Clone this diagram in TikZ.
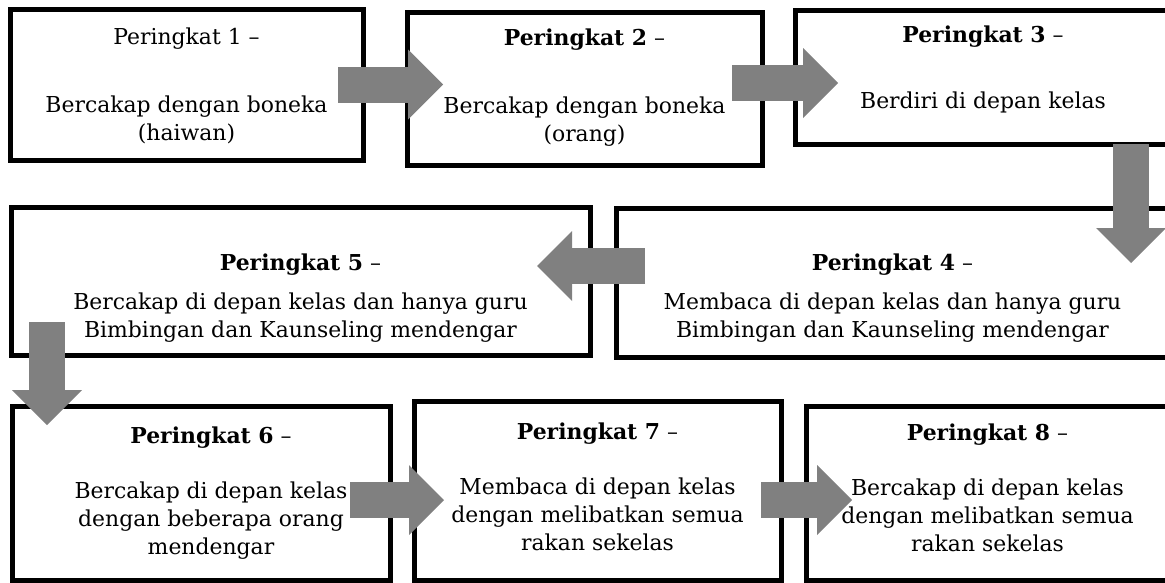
\documentclass[tikz,border=0pt]{standalone}
\usepackage{fontspec}
\setmainfont{DejaVu Serif}
\usetikzlibrary{positioning,calc,arrows.meta}
\definecolor{lvLine}{HTML}{000000}
\definecolor{lvGrey}{HTML}{808080}
\newdimen\pxu
\pxu=0.03cm
\tikzset{
    lvBox/.style={
        rectangle,
        draw=lvLine,
        line width=0.15cm,
        fill=white,
        outer sep=0pt,
        inner sep=0pt
    },
    lvText/.style={
        font=\fontsize{18.7}{23.9}\selectfont,
        align=center,
        inner sep=0pt
    },
    % Arrows
    lvArrow/.style={
        draw=lvGrey,
        line width=1.08cm,
        -{Triangle[length=1.05cm, width=2.1cm, line width=0pt]}
    }
}

\begin{document}
\begin{tikzpicture}[x=0.03cm, y=-0.03cm]
    \useasboundingbox (0,0) rectangle (1165,583);

    \node[lvBox, minimum width=353*\pxu, minimum height=151*\pxu] (p1) at (186.5,84.5) {};
    \node[lvBox, minimum width=355*\pxu, minimum height=153*\pxu] (p2) at (584.5,88.5) {};
    \node[lvBox, minimum width=380*\pxu, minimum height=134*\pxu] (p3) at (985,77) {};
    \node[lvBox, minimum width=559*\pxu, minimum height=149*\pxu] (p4) at (895.5,282.5) {};
    \node[lvBox, minimum width=579*\pxu, minimum height=148*\pxu] (p5) at (300.5,281) {};
    \node[lvBox, minimum width=378*\pxu, minimum height=174*\pxu] (p6) at (201,493) {};
    \node[lvBox, minimum width=367*\pxu, minimum height=179*\pxu] (p7) at (597.5,490.5) {};
    \node[lvBox, minimum width=369*\pxu, minimum height=174*\pxu] (p8) at (990.5,493) {};

    \node[lvText, below=18.4*\pxu of p1.north] (t1) {Peringkat 1 --\\[34pt]Bercakap dengan boneka\\(haiwan)};
    \node[lvText, below=16.4*\pxu of p2.north] (t2) {\textbf{Peringkat 2} --\\[34pt]Bercakap dengan boneka\\(orang)};
    \node[lvText, below=15.4*\pxu of p3.north, xshift=-2*\pxu] (t3) {\textbf{Peringkat 3} --\\[33pt]Berdiri di depan kelas};
    \node[lvText, below=45.4*\pxu of p4.north, xshift=-3*\pxu] (t4) {\textbf{Peringkat 4} --\\[9.4pt]Membaca di depan kelas dan hanya guru\\Bimbingan dan Kaunseling mendengar};
    \node[lvText, below=46.4*\pxu of p5.north] (t5) {\textbf{Peringkat 5} --\\[9.4pt]Bercakap di depan kelas dan hanya guru\\Bimbingan dan Kaunseling mendengar};
    \node[lvText, below=20.4*\pxu of p6.north, xshift=10*\pxu] (t6) {\textbf{Peringkat 6} --\\[23pt]Bercakap di depan kelas\\dengan beberapa orang\\mendengar};
    \node[lvText, below=21.4*\pxu of p7.north] (t7) {\textbf{Peringkat 7} --\\[23pt]Membaca di depan kelas\\dengan melibatkan semua\\rakan sekelas};
    \node[lvText, below=17.4*\pxu of p8.north, xshift=-3*\pxu] (t8) {\textbf{Peringkat 8} --\\[23pt]Bercakap di depan kelas\\dengan melibatkan semua\\rakan sekelas};

    \coordinate (a2) at ($(p2.east)+(-30,-5.5)$);
    \coordinate (a3) at ($(p3.south east)+(-44,0)$);
    \coordinate (a4) at ($(p4.west)+(29,-16.5)$);
    \coordinate (a5) at ($(p5.south west)+(36,-33)$);
    \coordinate (a6) at ($(p6.east)+(-40,7)$);
    \coordinate (a7) at ($(p7.east)+(-20,9.5)$);

    \draw[lvArrow] ($(p1.east)+(-25,0)$) -- ($(p1.east -| p2.west)+(36,0)$);
    \draw[lvArrow] (a2) -- ($(a2 -| p3.west)+(43,0)$);
    \draw[lvArrow] (a3) -- ($(a3 |- p4.north)+(0,55)$);
    \draw[lvArrow] (a4) -- ($(a4 -| p5.east)+(-53,0)$);
    \draw[lvArrow] (a5) -- ($(a5 |- p6.north)+(0,19)$);
    \draw[lvArrow] (a6) -- ($(a6 -| p7.west)+(30,0)$);
    \draw[lvArrow] (a7) -- ($(a7 -| p8.west)+(46,0)$);
\end{tikzpicture}
\end{document}
